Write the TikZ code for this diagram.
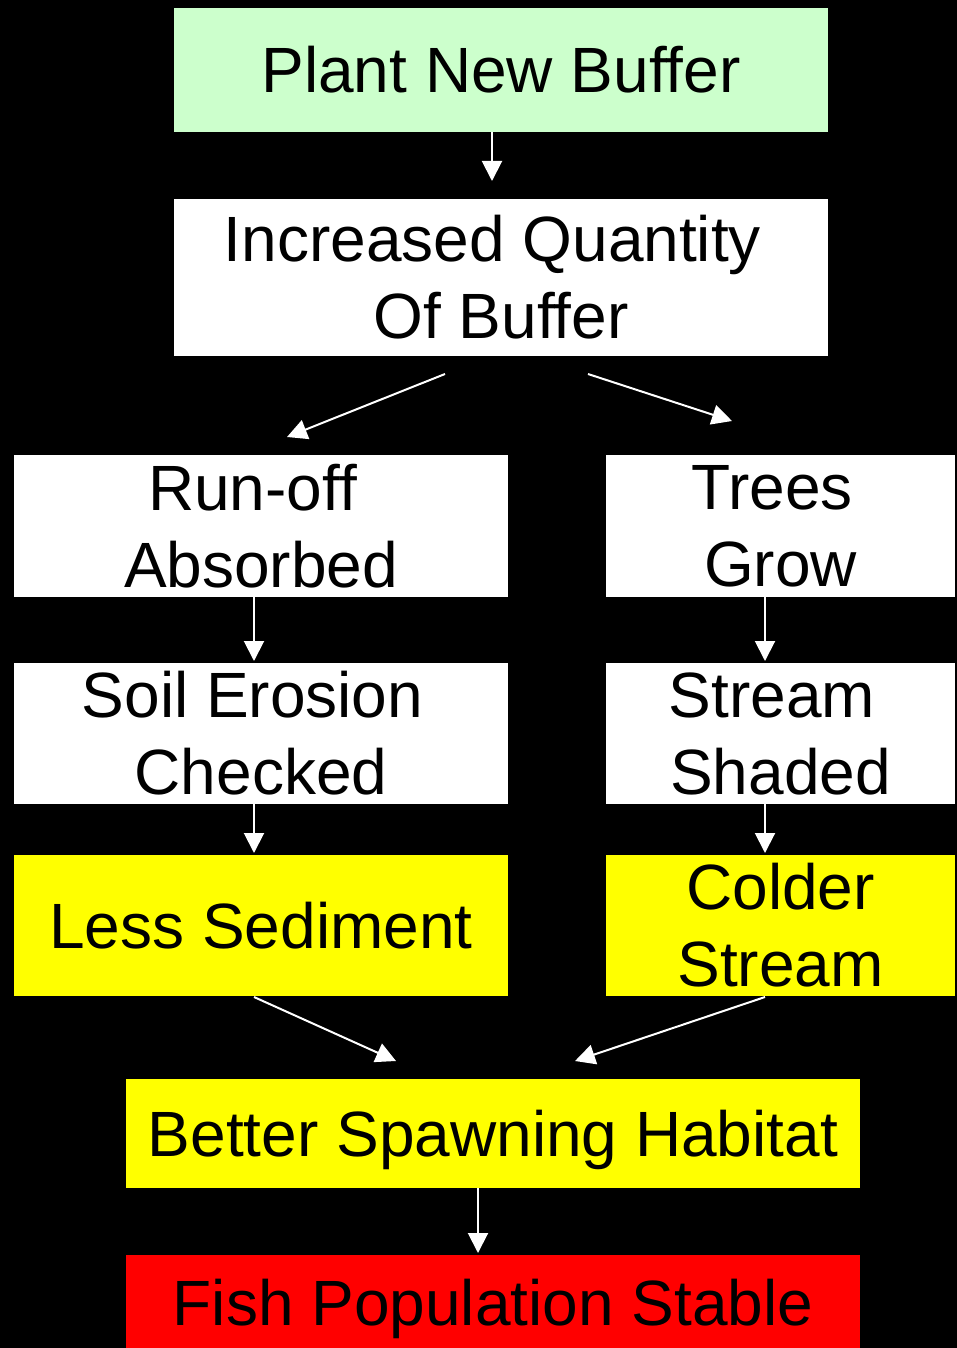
\documentclass[tikz,border=0pt]{standalone}
\usepackage{fontspec}
\setmainfont{Liberation Sans}
\usetikzlibrary{arrows.meta}
\definecolor{mintgreen}{HTML}{CCFFCC}
\definecolor{brightyellow}{HTML}{FFFF00}
\definecolor{brightred}{HTML}{FF0000}
\tikzset{
  box/.style={rectangle, inner sep=0pt, outer sep=0pt, align=center,
    font=\fontsize{64}{77}\selectfont, text=black},
  arr/.style={draw=white, line width=2pt, -{Triangle[width=20pt,length=20pt]}}
}
\begin{document}
\begin{tikzpicture}[x=1pt,y=-1pt]
\fill[black] (0,0) rectangle (957,1348);
\useasboundingbox (0,0) rectangle (957,1348);

\node[box, fill=mintgreen, minimum width=654pt, minimum height=124pt] (plant) at (501,70) {Plant New Buffer};
\node[box, fill=white, minimum width=654pt, minimum height=157pt] (inc) at (501,277.5) {Increased Quantity\hspace*{17pt}\\Of Buffer};
\node[box, fill=white, minimum width=494pt, minimum height=142pt] (run) at (261,526) {Run-off\hspace*{17pt}\\Absorbed};
\node[box, fill=white, minimum width=349pt, minimum height=142pt] (trees) at (780.5,526) {Trees\hspace*{17pt}\\Grow};
\node[box, fill=white, minimum width=494pt, minimum height=141pt] (soil) at (261,733.5) {Soil Erosion\hspace*{17pt}\\Checked};
\node[box, fill=white, minimum width=349pt, minimum height=141pt] (stream) at (780.5,733.5) {Stream\hspace*{17pt}\\Shaded};
\node[box, fill=brightyellow, minimum width=494pt, minimum height=141pt] (less) at (261,925.5) {Less Sediment};
\node[box, fill=brightyellow, minimum width=349pt, minimum height=141pt] (colder) at (780.5,925.5) {Colder\\Stream};
\node[box, fill=brightyellow, minimum width=734pt, minimum height=109pt, text depth=0pt] (better) at (493,1133.5) {Better Spawning Habitat};
\node[box, fill=brightred, minimum width=734pt, minimum height=95pt, text depth=0pt] (fish) at (493,1302.5) {Fish Population Stable};

\coordinate (a1s) at (492,132);  \coordinate (a1e) at (492,181);
\coordinate (a2s) at (445,374);  \coordinate (a2e) at (287,437);
\coordinate (a3s) at (588,374);  \coordinate (a3e) at (732,421);
\coordinate (a4s) at (254,597);  \coordinate (a4e) at (254,661);
\coordinate (a5s) at (765,597);  \coordinate (a5e) at (765,661);
\coordinate (a6s) at (254,804);  \coordinate (a6e) at (254,853);
\coordinate (a7s) at (765,804);  \coordinate (a7e) at (765,853);
\coordinate (a8s) at (254,997);  \coordinate (a8e) at (396,1061);
\coordinate (a9s) at (765,997);  \coordinate (a9e) at (575,1061);
\coordinate (a10s) at (478,1188); \coordinate (a10e) at (478,1253);

\draw[arr] (a1s) -- (a1e);
\draw[arr] (a2s) -- (a2e);
\draw[arr] (a3s) -- (a3e);
\draw[arr] (a4s) -- (a4e);
\draw[arr] (a5s) -- (a5e);
\draw[arr] (a6s) -- (a6e);
\draw[arr] (a7s) -- (a7e);
\draw[arr] (a8s) -- (a8e);
\draw[arr] (a9s) -- (a9e);
\draw[arr] (a10s) -- (a10e);
\end{tikzpicture}
\end{document}
